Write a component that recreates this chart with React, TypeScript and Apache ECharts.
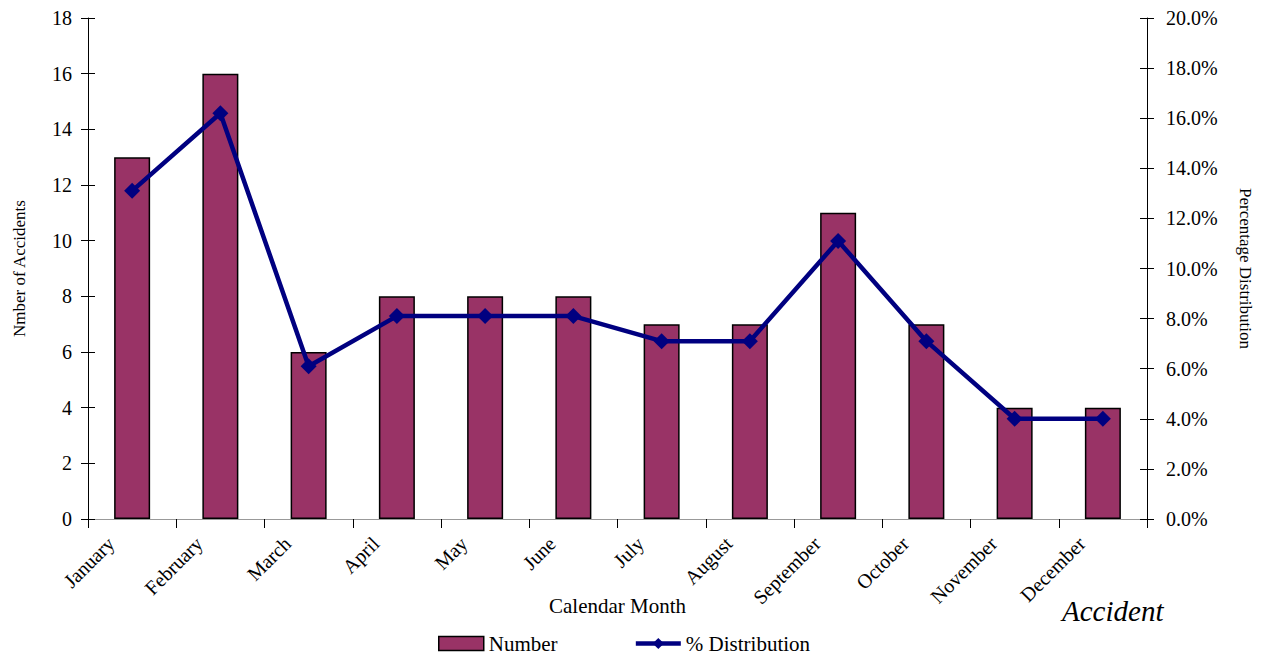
import React, { useEffect, useRef } from "react";
import * as echarts from "echarts";

const months = [
  "January", "February", "March", "April", "May", "June",
  "July", "August", "September", "October", "November", "December",
];
const accidents = [13, 16, 6, 8, 8, 8, 7, 7, 11, 7, 4, 4];
const distribution = [13.1, 16.2, 6.1, 8.1, 8.1, 8.1, 7.1, 7.1, 11.1, 7.1, 4.0, 4.0];

const FONT = "Liberation Serif";

export default function App() {
  const ref = useRef<HTMLDivElement>(null);
  useEffect(() => {
    if (!ref.current) return;
    const chart = echarts.init(ref.current, null, { renderer: "svg" });
    const legendText = { fontFamily: FONT, fontSize: 21, color: "#000" };
    chart.setOption({
      animation: false,
      textStyle: { fontFamily: FONT, color: "#000" },
      grid: { left: 88, right: 114, top: 18, bottom: 136, containLabel: false },
      legend: {
        top: 633,
        left: 438,
        padding: 0,
        itemGap: 76,
        itemWidth: 45,
        itemHeight: 14,
        textStyle: legendText,
        data: [
          {
            name: "Number",
            icon: "rect",
            itemStyle: { borderColor: "#000", borderWidth: 1.5 },
            textStyle: legendText,
          },
          {
            name: "% Distribution",
            lineStyle: { width: 4.5, color: "#000080" },
            textStyle: legendText,
          },
        ],
      },
      graphic: [
        {
          type: "text",
          left: 1062,
          top: 596,
          style: {
            text: "Accident",
            font: `italic 29px ${FONT}`,
            fill: "#000",
          },
        },
      ],
      xAxis: [
        {
          type: "category",
          data: months,
          position: "bottom",
          name: "Calendar Month",
          nameLocation: "middle",
          nameGap: 76,
          nameMoveOverlap: false,
          nameTextStyle: { fontFamily: FONT, fontSize: 21, color: "#000" },
          axisLine: { lineStyle: { color: "#000", width: 1 } },
          axisTick: { show: true, interval: 0, length: 9, lineStyle: { color: "#000" } },
          axisLabel: {
            interval: 0,
            rotate: 45,
            margin: 0,
            padding: [0, 30, 0, 0],
            fontFamily: FONT,
            fontSize: 20,
            color: "#000",
          },
        },
        {
          type: "category",
          data: months,
          position: "top",
          axisLine: { lineStyle: { color: "#999", width: 1 } },
          axisTick: { show: false },
          axisLabel: { show: false },
        },
      ],
      yAxis: [
        {
          type: "value",
          min: 0,
          max: 18,
          interval: 2,
          position: "left",
          name: "Nmber of Accidents",
          nameLocation: "middle",
          nameGap: 60,
          nameTextStyle: { fontFamily: FONT, fontSize: 17, color: "#000" },
          axisLine: { show: true, lineStyle: { color: "#000" } },
          axisTick: { show: true, length: 7, lineStyle: { color: "#000" } },
          axisLabel: { margin: 16, fontFamily: FONT, fontSize: 20, color: "#000" },
          splitLine: { show: false },
        },
        {
          type: "value",
          min: 0,
          max: 20,
          interval: 2,
          position: "right",
          name: "Percentage Distribution",
          nameLocation: "middle",
          nameGap: 90,
          nameRotate: -90,
          nameTextStyle: { fontFamily: FONT, fontSize: 17, color: "#000" },
          axisLine: { show: true, lineStyle: { color: "#000" } },
          axisTick: { show: true, length: 7, lineStyle: { color: "#000" } },
          axisLabel: {
            margin: 19,
            fontFamily: FONT,
            fontSize: 20,
            color: "#000",
            formatter: (v: number) => v.toFixed(1) + "%",
          },
          splitLine: { show: false },
        },
        {
          type: "value",
          min: 0,
          max: 18,
          interval: 2,
          position: "left",
          axisLine: { show: false },
          axisTick: { show: true, inside: true, length: 7, lineStyle: { color: "#000" } },
          axisLabel: { show: false },
          splitLine: { show: false },
        },
        {
          type: "value",
          min: 0,
          max: 20,
          interval: 2,
          position: "right",
          axisLine: { show: false },
          axisTick: { show: true, inside: true, length: 7, lineStyle: { color: "#000" } },
          axisLabel: { show: false },
          splitLine: { show: false },
        },
      ],
      series: [
        {
          name: "Number",
          type: "bar",
          data: accidents,
          barWidth: 36,
          yAxisIndex: 0,
          itemStyle: { color: "#993366", borderColor: "#000", borderWidth: 1.5 },
        },
        {
          name: "% Distribution",
          type: "line",
          data: distribution,
          yAxisIndex: 1,
          symbol: "diamond",
          symbolSize: 16,
          lineStyle: { color: "#000080", width: 4.5 },
          itemStyle: { color: "#000080" },
        },
      ],
    });
    return () => chart.dispose();
  }, []);
  return (
    <div
      ref={ref}
      style={{ position: "fixed", left: 0, top: 0, width: 1262, height: 655, background: "#fff" }}
    />
  );
}
